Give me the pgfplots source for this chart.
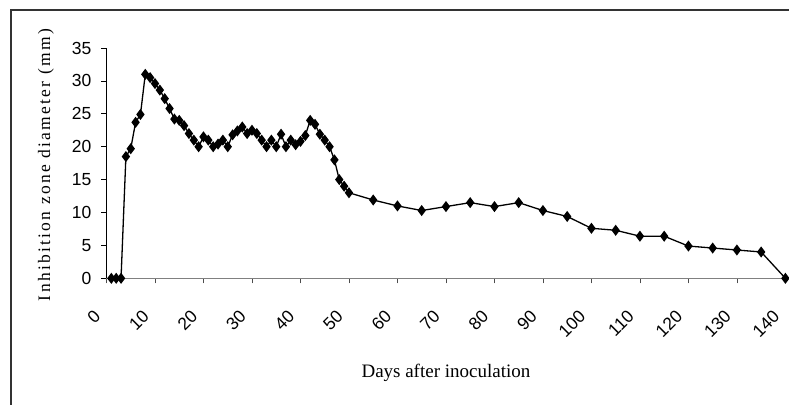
\documentclass[border=0pt]{standalone}
\usepackage{pgfplots}
\pgfplotsset{compat=1.18}
\usepackage{fontspec}
\setmainfont{Liberation Serif}
\newfontfamily\arialf{Liberation Sans}
\newfontfamily\spacedf[LetterSpace=13]{Liberation Serif}
\begin{document}
\begin{tikzpicture}
\useasboundingbox (-106.5bp,-126.7bp) rectangle (682.5bp,278.3bp);
\draw[black!80, line width=1.5bp] (-95.5bp,-140bp) -- (-95.5bp,268.3bp) -- (700bp,268.3bp);
\begin{axis}[
  at={(0,0)}, anchor=south west,
  scale only axis, width=678.9bp, height=230.3bp,
  xmin=0, xmax=140, ymin=0, ymax=35,
  axis lines=left, axis line style={-},
  x axis line style={draw=gray, line width=1.5bp},
  y axis line style={draw=black, line width=0.8bp},
  xtick={0,10,...,140}, ytick={0,5,...,35},
  tick align=outside, major tick length=5bp,
  x tick style={draw=black!70, line width=0.8bp},
  y tick style={draw=black, line width=0.8bp},
  clip=false,
  /pgf/number format/assume math mode=true,
  ticklabel style={font=\arialf\fontsize{17.5bp}{17.5bp}\selectfont},
  yticklabel style={inner sep=0pt, xshift=-10bp},
  xticklabel style={inner sep=0pt, xshift=-9bp, yshift=-30bp, rotate=45, anchor=east},
  xlabel={Days after inoculation},
  xlabel style={font=\fontsize{19bp}{19bp}\selectfont, at={(axis description cs:0.5,-0.41)}, anchor=center},
  ylabel={Inhibition zone diameter (mm)},
  ylabel style={font=\spacedf\fontsize{17.5bp}{17.5bp}\selectfont, at={(axis description cs:-0.0891,0.492)}, anchor=center},
]
\addplot[black, line width=1.3bp, mark=diamond*, mark size=4.5bp, mark options={solid, fill=black}] coordinates {
(1,0) (2,0) (3,0) (4,18.5) (5,19.7) (6,23.7) (7,24.9) (8,31.0) (9,30.5) (10,29.6)
(11,28.6) (12,27.3) (13,25.8) (14,24.2) (15,24.0) (16,23.2) (17,22.0) (18,21.0) (19,20.0) (20,21.5)
(21,21.0) (22,20.0) (23,20.4) (24,21.0) (25,20.0) (26,21.8) (27,22.4) (28,23.0) (29,22.0) (30,22.5)
(31,22.0) (32,21.0) (33,20.0) (34,21.0) (35,20.0) (36,21.9) (37,20.0) (38,21.0) (39,20.3) (40,20.8)
(41,21.7) (42,24.0) (43,23.4) (44,21.9) (45,21.0) (46,20.0) (47,18.0) (48,15.0) (49,14.0) (50,13.0)
(55,11.9) (60,11.0) (65,10.3) (70,10.9) (75,11.5) (80,10.9) (85,11.5) (90,10.3) (95,9.4) (100,7.6)
(105,7.3) (110,6.4) (115,6.4) (120,4.9) (125,4.6) (130,4.3) (135,4.0) (140,0)
};
\end{axis}
\end{tikzpicture}
\end{document}
